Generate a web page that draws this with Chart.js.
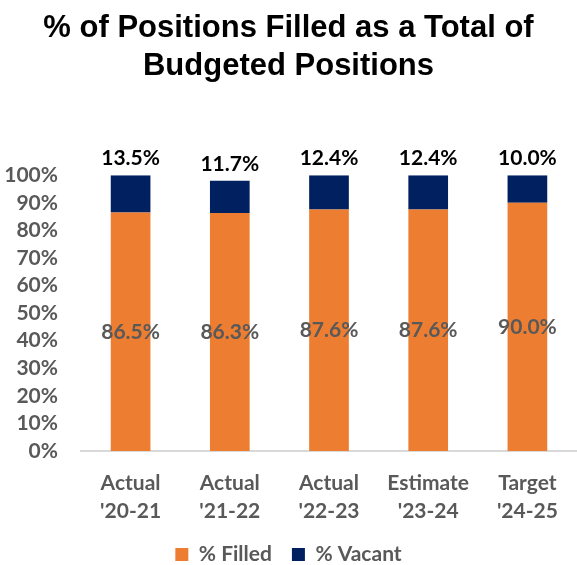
<!DOCTYPE html>
<html>
<head>
<meta charset="utf-8">
<script src="https://cdn.jsdelivr.net/npm/chart.js@4/dist/chart.umd.min.js"></script>
<style>
  html, body { margin: 0; padding: 0; background: #fff; }
  #wrap { width: 577px; height: 565px; }
</style>
</head>
<body>
<div id="wrap"><canvas id="chart"></canvas></div>
<script>
const categories = [["Actual", "'20-21"], ["Actual", "'21-22"], ["Actual", "'22-23"], ["Estimate", "'23-24"], ["Target", "'24-25"]];
const filled = [86.5, 86.3, 87.6, 87.6, 90.0];
const vacant = [13.5, 11.7, 12.4, 12.4, 10.0];
const titleLines = ['% of Positions Filled as a Total of', 'Budgeted Positions'];

const ORANGE = '#ED7D31';
const NAVY = '#002060';
const GREY = '#595959';
const FONT = 'Lato, "Open Sans", sans-serif';

// draw value labels: filled in the middle, vacant above the bar
const labelPlugin = {
    id: 'valueLabels',
    afterDatasetsDraw(chart) {
        const ctx = chart.ctx;
        ctx.save();
        ctx.font = 'bold 21px ' + FONT;
        ctx.textAlign = 'center';
        ctx.textBaseline = 'middle';
        chart.data.datasets.forEach((ds, di) => {
            const meta = chart.getDatasetMeta(di);
            meta.data.forEach((el, i) => {
                const txt = ds.data[i].toFixed(1) + '%';
                if (di === 0) {
                    ctx.fillStyle = GREY;
                    ctx.fillText(txt, el.x, (el.y + el.base) / 2);
                } else {
                    ctx.fillStyle = '#000000';
                    ctx.fillText(txt, el.x, el.y - 17);
                }
            });
        });
        ctx.restore();
    }
};

new Chart(document.getElementById('chart'), {
    type: 'bar',
    data: {
        labels: categories,
        datasets: [
            { label: '% Filled', data: filled, backgroundColor: ORANGE },
            { label: '% Vacant', data: vacant, backgroundColor: NAVY }
        ]
    },
    plugins: [labelPlugin],
    options: {
        responsive: true,
        maintainAspectRatio: false,
        animation: false,
        barPercentage: 0.4,
        categoryPercentage: 1.0,
        layout: { padding: { top: 0, right: 0, bottom: -10, left: 0 } },
        plugins: {
            title: {
                display: true,
                text: titleLines,
                color: '#000000',
                font: { family: '"Liberation Sans", Arial, sans-serif', size: 31, weight: 'bold', lineHeight: 1.23 },
                padding: { top: 9, bottom: 90 }
            },
            legend: {
                position: 'bottom',
                labels: {
                    color: GREY,
                    font: { family: FONT, size: 21, weight: 'bold' },
                    boxWidth: 13,
                    boxHeight: 13,
                    padding: 20
                }
            },
            tooltip: { enabled: false }
        },
        scales: {
            x: {
                stacked: true,
                afterFit(scale) { scale.height = 73; },
                grid: { display: false, drawTicks: false },
                border: { color: '#D9D9D9', width: 2 },
                ticks: {
                    color: GREY,
                    font: { family: FONT, size: 21, weight: 'bold', lineHeight: 1.3 },
                    padding: 19,
                    maxRotation: 0,
                    autoSkip: false
                }
            },
            y: {
                stacked: true,
                min: 0,
                max: 100,
                afterFit(scale) { scale.width = 81; },
                grid: { display: false, drawTicks: false },
                border: { display: false },
                ticks: {
                    stepSize: 10,
                    autoSkip: false,
                    color: GREY,
                    font: { family: FONT, size: 21, weight: 'bold' },
                    padding: 23,
                    callback: v => v + '%'
                }
            }
        }
    }
});
</script>
</body>
</html>
